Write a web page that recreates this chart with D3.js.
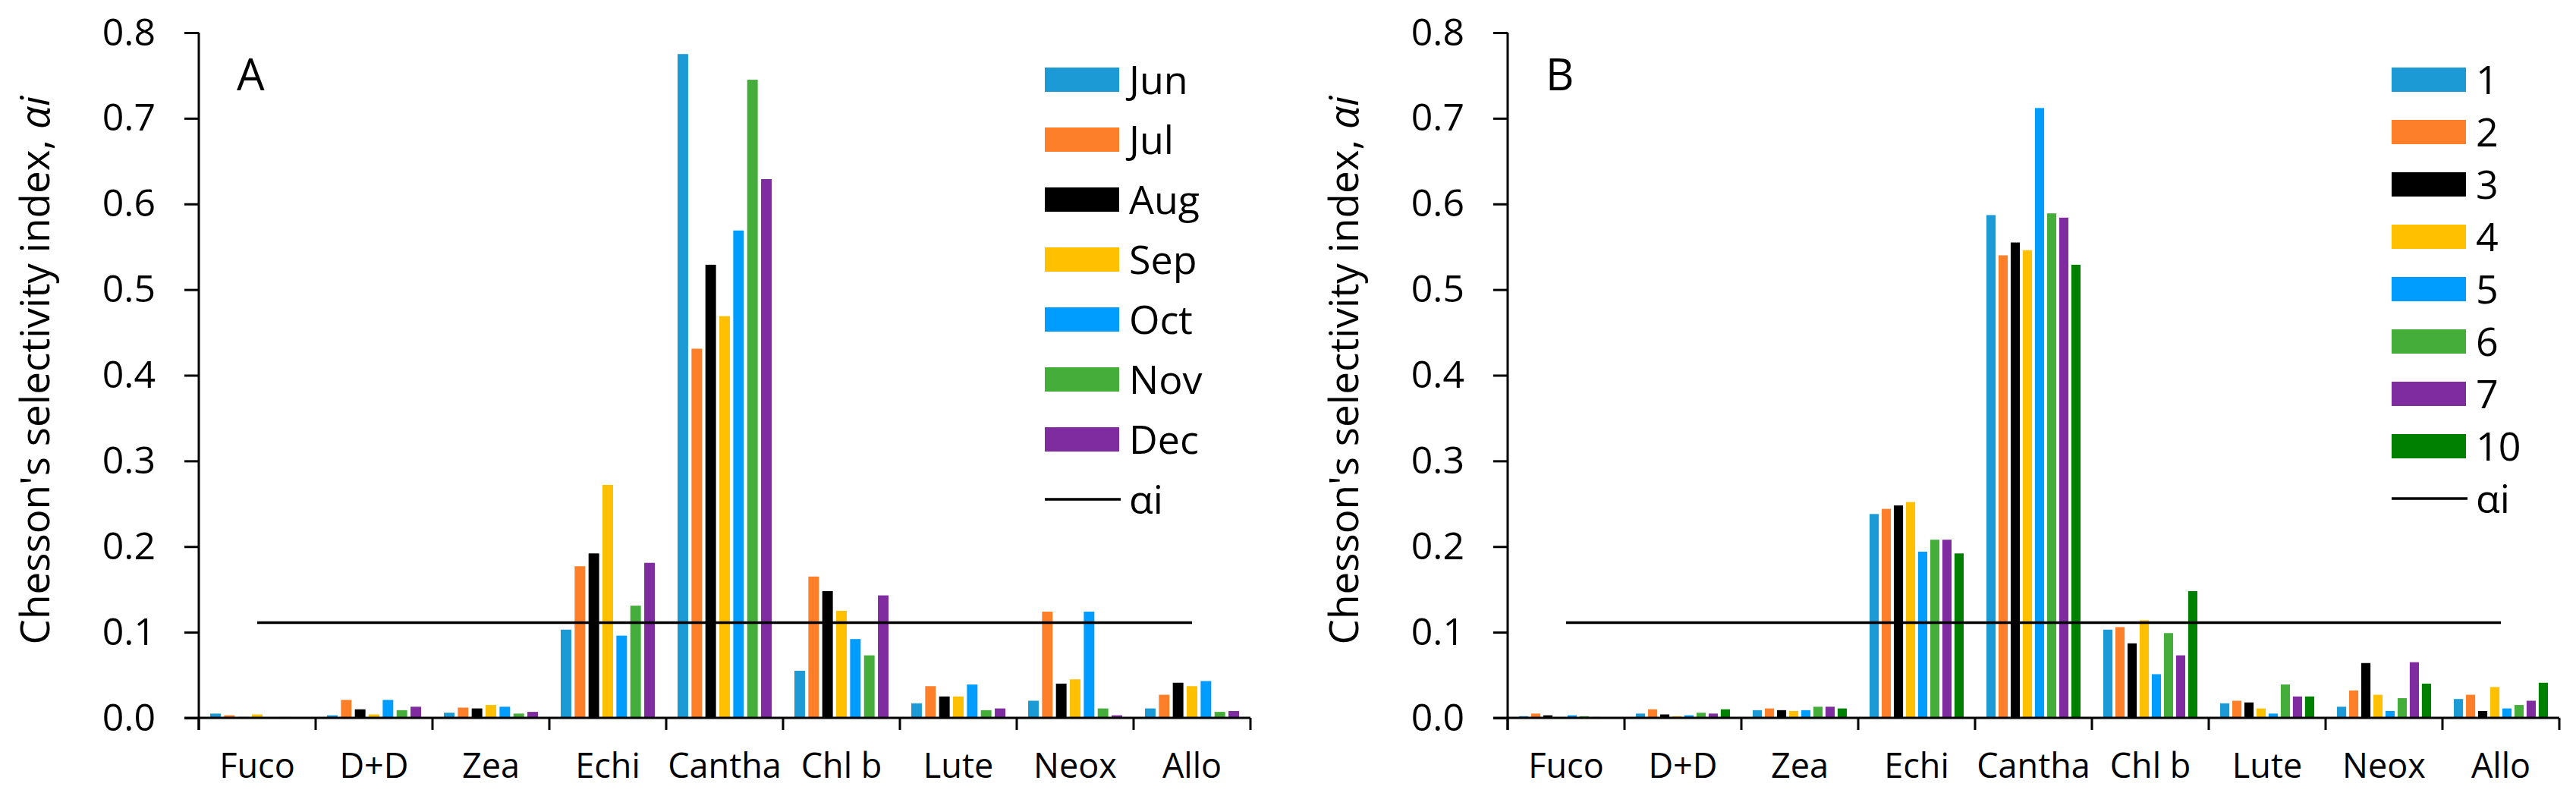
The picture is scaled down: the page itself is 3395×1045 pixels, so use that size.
<!DOCTYPE html>
<html>
<head>
<meta charset="utf-8">
<script src="https://cdn.jsdelivr.net/npm/d3@7"></script>
<style>
  body { margin: 0; background: #fff; }
  svg text { font-family: "Open Sans", "Noto Sans", sans-serif; fill: #000; }
</style>
</head>
<body>
<div id="chart"></div>
<script>
// pigments on the x axis
var pigments = ["Fuco", "D+D", "Zea", "Echi", "Cantha", "Chl b", "Lute", "Neox", "Allo"];

// panel A: months
var months = ["Jun", "Jul", "Aug", "Sep", "Oct", "Nov", "Dec"];
var monthColors = ["#1b9ad6", "#fe7f2a", "#000000", "#ffc000", "#009dff", "#45ae3b", "#7e2ca0"];
var jun = [0.005, 0.003, 0.006, 0.103, 0.775, 0.055, 0.017, 0.020, 0.011];
var jul = [0.003, 0.021, 0.012, 0.177, 0.431, 0.165, 0.037, 0.124, 0.027];
var aug = [0.001, 0.010, 0.011, 0.192, 0.529, 0.148, 0.025, 0.040, 0.041];
var sep = [0.004, 0.004, 0.015, 0.272, 0.469, 0.125, 0.025, 0.045, 0.037];
var oct = [0.000, 0.021, 0.013, 0.096, 0.569, 0.092, 0.039, 0.124, 0.043];
var nov = [0.001, 0.009, 0.005, 0.131, 0.745, 0.073, 0.009, 0.011, 0.007];
var dec = [0.000, 0.013, 0.007, 0.181, 0.629, 0.143, 0.011, 0.003, 0.008];

// panel B: sites
var sites = ["1", "2", "3", "4", "5", "6", "7", "10"];
var siteColors = ["#1b9ad6", "#fe7f2a", "#000000", "#ffc000", "#009dff", "#45ae3b", "#7e2ca0", "#008000"];
var s1  = [0.002, 0.005, 0.009, 0.238, 0.587, 0.103, 0.017, 0.013, 0.022];
var s2  = [0.005, 0.010, 0.011, 0.244, 0.540, 0.106, 0.020, 0.032, 0.027];
var s3  = [0.003, 0.004, 0.009, 0.248, 0.555, 0.087, 0.018, 0.064, 0.008];
var s4  = [0.001, 0.002, 0.008, 0.252, 0.546, 0.114, 0.011, 0.027, 0.036];
var s5  = [0.003, 0.003, 0.009, 0.194, 0.712, 0.051, 0.005, 0.008, 0.011];
var s6  = [0.002, 0.006, 0.013, 0.208, 0.589, 0.099, 0.039, 0.023, 0.015];
var s7  = [0.001, 0.005, 0.013, 0.208, 0.584, 0.073, 0.025, 0.065, 0.020];
var s10 = [0.000, 0.010, 0.011, 0.192, 0.529, 0.148, 0.025, 0.040, 0.041];

// reference line, 1/n for 9 pigments
var alphaRef = 1 / 9;
var yTicks = [0, 0.1, 0.2, 0.3, 0.4, 0.5, 0.6, 0.7, 0.8];

const width = 3395, height = 1045,
    y0 = 946, y1 = 43, // y pixel of 0 and 0.8
    bandW = 154, // width of one pigment
    lw = 3; // axis linewidth

var svg = d3.select("#chart").append("svg")
    .attr("width", width)
    .attr("height", height);

// draw one panel
function panel(opt) {
    var g = svg.append("g");
    var x = d3.scaleBand()
        .domain(pigments)
        .range([opt.left, opt.left + bandW * pigments.length]);
    var sub = d3.scaleBand()
        .domain(opt.series)
        .range([15, bandW - 15])
        .paddingInner(0.24);
    var y = d3.scaleLinear().domain([0, 0.8]).range([y0, y1]);

    // bars
    opt.series.forEach(function(s, si) {
        g.append("g")
            .attr("fill", opt.colors[si])
            .selectAll("rect")
            .data(opt.values[si])
            .enter().append("rect")
            .attr("x", function(d, i) { return x(pigments[i]) + sub(s); })
            .attr("y", function(d) { return y(d); })
            .attr("width", sub.bandwidth())
            .attr("height", function(d) { return y0 - y(d); });
    });

    // y axis
    var yAxis = g.append("g")
        .attr("transform", "translate(" + opt.left + ",0)")
        .call(d3.axisLeft(y).tickValues(yTicks).tickFormat(d3.format(".1f"))
            .tickSize(19).tickPadding(38).tickSizeOuter(0));
    yAxis.selectAll("line, path").attr("stroke", "#000").attr("stroke-width", lw);
    yAxis.selectAll("text").style("font-size", "50px");
    yAxis.select(".domain").remove();
    g.append("line")
        .attr("x1", opt.left).attr("x2", opt.left)
        .attr("y1", y(0.8)).attr("y2", y0 + 16)
        .attr("stroke", "#000").attr("stroke-width", lw);

    // x axis with ticks between pigments
    var xr = x.range();
    g.append("line")
        .attr("x1", xr[0] - 19).attr("x2", xr[1])
        .attr("y1", y0).attr("y2", y0)
        .attr("stroke", "#000").attr("stroke-width", lw);
    g.append("g").selectAll("line")
        .data(d3.range(pigments.length + 1))
        .enter().append("line")
        .attr("x1", function(i) { return xr[0] + i * x.step(); })
        .attr("x2", function(i) { return xr[0] + i * x.step(); })
        .attr("y1", y0).attr("y2", y0 + 16)
        .attr("stroke", "#000").attr("stroke-width", lw);
    g.append("g").selectAll("text")
        .data(pigments)
        .enter().append("text")
        .attr("x", function(d) { return x(d) + x.bandwidth() / 2; })
        .attr("y", 1025)
        .attr("text-anchor", "middle")
        .style("font-size", "45px")
        .text(function(d) { return d; });

    // alpha line, from first to last pigment centre
    g.append("line")
        .attr("x1", x(pigments[0]) + x.bandwidth() / 2)
        .attr("x2", x(pigments[pigments.length - 1]) + x.bandwidth() / 2)
        .attr("y1", y(alphaRef)).attr("y2", y(alphaRef))
        .attr("stroke", "#000").attr("stroke-width", 3.5);

    // y title
    var t = g.append("text")
        .attr("transform", "translate(" + (opt.left - 216) + "," + 488 + ") rotate(-90)")
        .attr("text-anchor", "middle")
        .attr("dy", "0.35em")
        .style("font-size", "53px");
    t.append("tspan").text("Chesson's selectivity index, ");
    t.append("tspan").style("font-style", "italic").text("\u03b1i");

    // panel letter
    g.append("text")
        .attr("x", opt.left + 50).attr("y", 119)
        .style("font-size", "58px")
        .text(opt.letter);

    // legend
    var lg = g.append("g").attr("transform", "translate(" + opt.legX + ",0)");
    var rows = opt.series.concat(["\u03b1i"]);
    rows.forEach(function(r, i) {
        var cy = 105 + opt.legStep * i;
        if (i < opt.series.length) {
            lg.append("rect")
                .attr("x", 0).attr("y", cy - 16)
                .attr("width", 98).attr("height", 32)
                .attr("fill", opt.colors[i]);
        } else {
            lg.append("line")
                .attr("x1", 0).attr("x2", 100)
                .attr("y1", cy).attr("y2", cy)
                .attr("stroke", "#000").attr("stroke-width", 3.5);
        }
        lg.append("text")
            .attr("x", 111).attr("y", cy)
            .attr("dy", "0.36em")
            .style("font-size", "52px")
            .text(r);
    });
}

panel({
    left: 262, letter: "A", series: months, colors: monthColors,
    values: [jun, jul, aug, sep, oct, nov, dec],
    legX: 1377, legStep: 79
});
panel({
    left: 1987, letter: "B", series: sites, colors: siteColors,
    values: [s1, s2, s3, s4, s5, s6, s7, s10],
    legX: 3152, legStep: 69
});
</script>
</body>
</html>
